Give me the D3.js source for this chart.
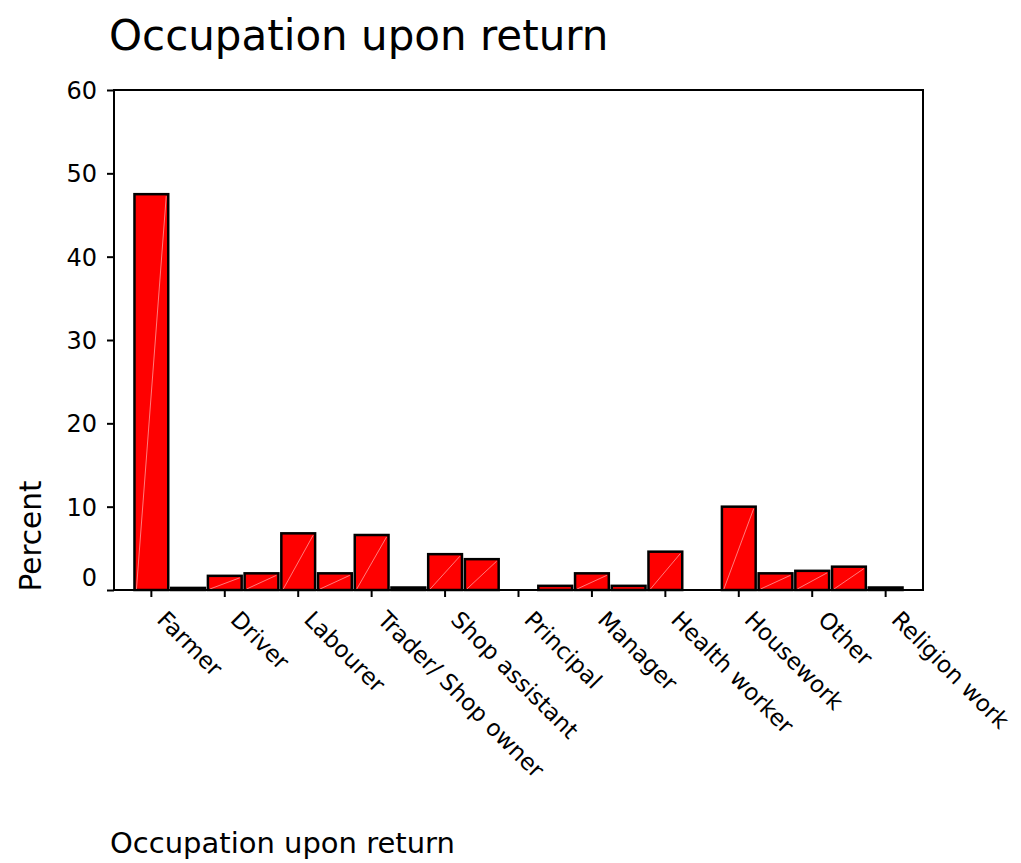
<!DOCTYPE html>
<html>
<head>
<meta charset="utf-8">
<script src="https://cdn.jsdelivr.net/npm/d3@7"></script>
<style>
  body { margin: 0; background: #fff; }
  text { font-family: "DejaVu Sans", Verdana, sans-serif; fill: #000; }
</style>
</head>
<body>
<div id="chart"></div>
<script>
// categories (SPSS only labels every other bar, the rest are left blank)
const categories = ["Farmer", "", "Driver", "", "Labourer", "", "Trader/ Shop owner", "",
  "Shop assistant", "", "Principal", "", "Manager", "", "Health worker", "",
  "Housework", "", "Other", "", "Religion work"];
const percents = [47.5, 0.25, 1.7, 2.0, 6.8, 2.0, 6.6, 0.3, 4.3, 3.7, 0,
  0.5, 2.0, 0.5, 4.6, 0, 10.0, 2.0, 2.3, 2.8, 0.3];
const yTicks = [0, 10, 20, 30, 40, 50, 60];

const width = 1021;
const height = 863;
const margin = { top: 90, right: 98, bottom: 273, left: 114 };

const svg = d3.select('#chart')
  .append('svg')
  .attr('width', width)
  .attr('height', height);

const x = d3.scaleBand()
  .domain(d3.range(categories.length))
  .range([margin.left + 19, width - margin.right - 19])
  .paddingInner(0.08)
  .paddingOuter(0.04);

const y = d3.scaleLinear()
  .domain([0, 60])
  .range([height - margin.bottom, margin.top]);

// bars
const bars = svg.append('g');
bars.selectAll('rect')
  .data(percents)
  .enter()
  .append('rect')
  .attr('x', (d, i) => x(i))
  .attr('y', d => y(d))
  .attr('width', x.bandwidth())
  .attr('height', d => y(0) - y(d))
  .attr('fill', '#ff0000')
  .attr('stroke', '#000')
  .attr('stroke-width', d => d > 0 ? 2.5 : 0);

// faint diagonal streak SPSS leaves in each bar
bars.selectAll('line.diag')
  .data(percents.map((v, i) => ({ v, i })).filter(d => d.v > 1))
  .enter()
  .append('line')
  .attr('class', 'diag')
  .attr('x1', d => x(d.i) + 2)
  .attr('y1', y(0) - 1)
  .attr('x2', d => x(d.i) + x.bandwidth() - 2)
  .attr('y2', d => y(d.v) + 2)
  .attr('stroke', '#ff9a9a')
  .attr('stroke-width', 0.8);

// plot frame
svg.append('rect')
  .attr('x', margin.left)
  .attr('y', margin.top)
  .attr('width', width - margin.left - margin.right)
  .attr('height', height - margin.top - margin.bottom)
  .attr('fill', 'none')
  .attr('stroke', '#000')
  .attr('stroke-width', 2);

// y axis
const yAxis = svg.append('g')
  .attr('transform', `translate(${margin.left},0)`)
  .call(d3.axisLeft(y).tickValues(yTicks).tickSize(7).tickPadding(10));
yAxis.select('.domain').remove();
yAxis.selectAll('line').attr('stroke', '#000').attr('stroke-width', 2);
yAxis.selectAll('text')
  .style('font-size', '24px')
  .style('font-family', '"DejaVu Sans", Verdana, sans-serif')
  .attr('dy', d => d === 0 ? '-0.2em' : '0.35em');

// x axis, only labelled categories get a tick
const xAxis = svg.append('g')
  .attr('transform', `translate(0,${height - margin.bottom})`)
  .call(d3.axisBottom(x)
    .tickValues(d3.range(categories.length).filter(i => categories[i] !== ''))
    .tickFormat(i => categories[i])
    .tickSize(7));
xAxis.select('.domain').remove();
xAxis.selectAll('line').attr('stroke', '#000').attr('stroke-width', 2);
xAxis.selectAll('text')
  .style('font-size', '23px')
  .style('font-family', '"DejaVu Sans", Verdana, sans-serif')
  .attr('text-anchor', 'start')
  .attr('transform', 'translate(4.5,31) rotate(45)')
  .attr('y', 0)
  .attr('x', 0)
  .attr('dy', 0);

// titles
svg.append('text')
  .text('Occupation upon return')
  .attr('x', 109)
  .attr('y', 50)
  .style('font-size', '42px');

svg.append('text')
  .text('Occupation upon return')
  .attr('x', 110)
  .attr('y', 853)
  .style('font-size', '29px');

svg.append('text')
  .text('Percent')
  .attr('transform', 'translate(41,536) rotate(-90)')
  .attr('text-anchor', 'middle')
  .style('font-size', '29.5px');
</script>
</body>
</html>
